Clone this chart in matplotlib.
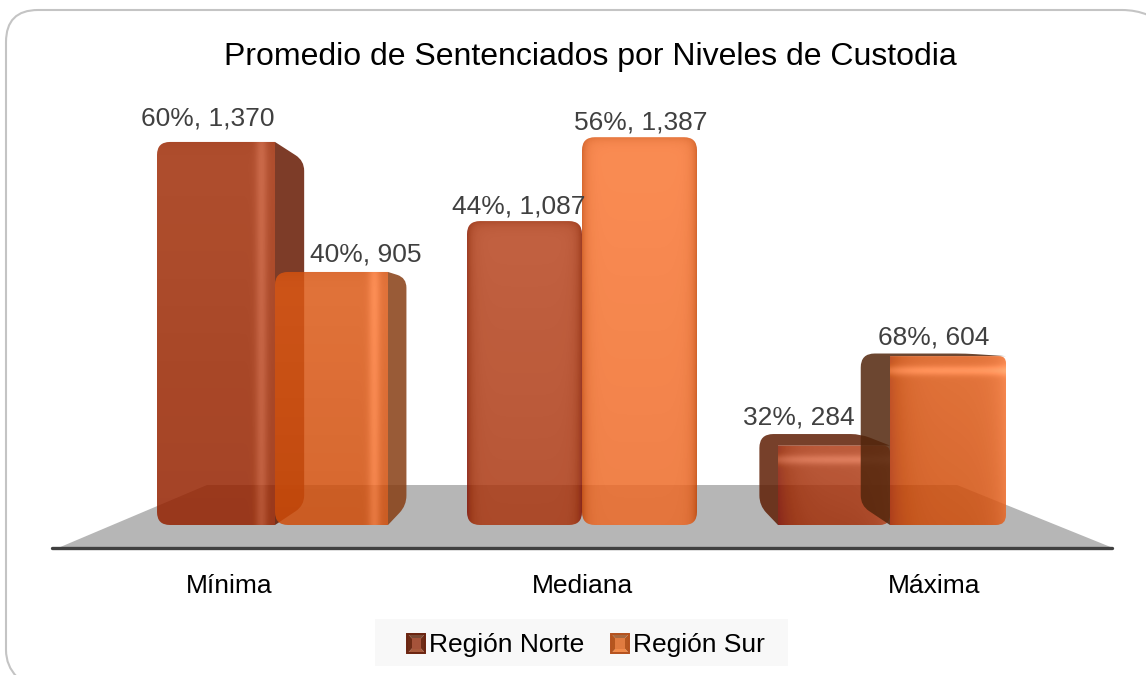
import numpy as np
import matplotlib
matplotlib.use('Agg')
import matplotlib.pyplot as plt
from matplotlib.path import Path
from matplotlib.patches import PathPatch, Polygon, Rectangle
from matplotlib.legend_handler import HandlerBase

plt.rcParams['font.family'] = ['Liberation Sans', 'DejaVu Sans']

title = 'Promedio de Sentenciados por Niveles de Custodia'
categories = ['Mínima', 'Mediana', 'Máxima']
series_names = ['Región Norte', 'Región Sur']
norte_values = [1370, 1087, 284]
sur_values = [905, 1387, 604]
norte_pct = [60, 44, 32]
sur_pct = [40, 56, 68]

# picture geometry, in pixels
base_py = 525
scale = 0.2796
vanish_x, vanish_y = 582, 330
depth_x, depth_y = 0.095, 0.1
left_edge = [157, 467, 778]
mid_edge = [275, 582, 890]
right_edge = [388, 697, 1006]
tick_x = [229.5, 582, 934]
label_x = [[208, 519, 799], [366, 641, 934]]
label_gap = [[26, 18, 31], [20, 18, 22]]
base_rgb = [np.array([162., 47., 9.]), np.array([221., 90., 23.])]
side_rgb = [(102, 26, 2), (135, 62, 20)]
side_rgb_right = [(95, 30, 5), (82, 38, 12)]
alpha = 0.85


def yv(py):
    return (base_py - py) / scale


def yp(v):
    return base_py - v * scale


def round_path(pts, radii):
    # closed path through pts (pixels) with rounded corners, in data coords
    pts = [np.array(p, float) for p in pts]
    if np.isscalar(radii):
        radii = [radii] * len(pts)
    verts, codes = [], []
    n = len(pts)
    for i in range(n):
        p, a, b = pts[i], pts[i - 1], pts[(i + 1) % n]
        ra = min(radii[i], np.linalg.norm(a - p) / 2)
        rb = min(radii[i], np.linalg.norm(b - p) / 2)
        p0 = p + (a - p) / max(np.linalg.norm(a - p), 1e-6) * ra
        p1 = p + (b - p) / max(np.linalg.norm(b - p), 1e-6) * rb
        verts += [p0, p, p1]
        codes += [Path.MOVETO if i == 0 else Path.LINETO, Path.CURVE3, Path.CURVE3]
    verts.append(verts[0])
    codes.append(Path.CLOSEPOLY)
    return Path([(v[0], yv(v[1])) for v in verts], codes)


def front_image(rgb, group, s, w, h):
    xs = np.arange(w)[None, :].repeat(h, 0).astype(float)
    ys = np.arange(h)[:, None].repeat(w, 1).astype(float)
    light = -14 * ys / h
    if group == 0:
        light += 32 * np.exp(-((xs - (w - 14)) / 6) ** 2)
        light += -8 * np.exp(-(ys / 8))
    elif group == 1:
        light += 30 if s == 1 else 22
        light += -40 * np.exp(-xs / 5) - 40 * np.exp(-(w - 1 - xs) / 5)
        light += -25 * np.exp(-ys / 5)
    else:
        light += 40 * np.exp(-((ys - 14) / 5) ** 2)
        light += -35 * np.exp(-xs / 14)
        light += 25 * np.exp(-(w - 1 - xs) / 12)
        if s == 0:
            light += 15
    img = np.zeros((h, w, 4))
    for c in range(3):
        img[:, :, c] = np.clip(rgb[c] + light, 0, 255) / 255
    img[:, :, 3] = alpha
    return img


def draw_bar(ax, x0, x1, value, s, group):
    top = yp(value)

    def back(x, y):
        return x + depth_x * (vanish_x - x), y + depth_y * (vanish_y - y)

    if group == 0:
        pts = [(x1, top), back(x1, top), back(x1, base_py), (x1, base_py)]
        radii = [0, 10, 10, 0]
        col = side_rgb[s]
        corners = [13, 0, 0, 13]
    elif group == 2:
        pts = [(x0, base_py), back(x0, base_py), back(x0, top), back(x1, top), (x1, top), (x0, top)]
        radii = [0, 10, 14, 10, 0, 0]
        col = side_rgb_right[s]
        corners = [0, 7, 10, 0]
    else:
        pts = None
        corners = [13, 13, 13, 13]
    if pts is not None:
        ax.add_patch(PathPatch(round_path(pts, radii), fc=np.array(col) / 255, ec='none', alpha=alpha))
    front = PathPatch(round_path([(x0, top), (x1, top), (x1, base_py), (x0, base_py)], corners),
                      fc='none', ec='none', transform=ax.transData)
    ax.add_patch(front)
    im = ax.imshow(front_image(base_rgb[s], group, s, int(x1 - x0), int(base_py - top)),
                   extent=(x0, x1, 0, value), aspect='auto', origin='upper',
                   interpolation='bilinear', zorder=front.get_zorder())
    im.set_clip_path(front)


class BevelHandler(HandlerBase):
    def __init__(self, light, dark, top, edge, centre):
        super().__init__()
        self.cols = (light, dark, top, edge, centre)

    def create_artists(self, legend, orig_handle, xdescent, ydescent, width, height, fontsize, trans):
        light, dark, top, edge, centre = self.cols
        x0, y0 = -xdescent, -ydescent - 1
        h = height + 1
        x1, y1 = x0 + width, y0 + h
        cx, cy = (x0 + x1) / 2, (y0 + y1) / 2
        arts = [
            Polygon([(x0, y0), (x1, y0), (cx, cy)], fc=top, ec='none'),
            Polygon([(x0, y1), (x1, y1), (cx, cy)], fc=light, ec='none'),
            Polygon([(x0, y0), (x0, y1), (cx, cy)], fc=dark, ec='none'),
            Polygon([(x1, y0), (x1, y1), (cx, cy)], fc=dark, ec='none'),
            Rectangle((x0 + 3, y0 + 3), width - 6, h - 6, fc=centre, ec='none'),
            Rectangle((x0, y0), width, h, fc='none', ec=edge, lw=1.4),
        ]
        for a in arts:
            a.set_transform(trans)
        return arts


fig = plt.figure(figsize=(11.46, 6.75), dpi=100)
ax = fig.add_axes([0, 0, 1, 1])
ax.axis('off')

# outer chart frame, only top and left show inside the picture
frame = Path([(1148, yv(15)), (1136, yv(10)), (1122, yv(10)),
              (38, yv(10)), (6, yv(10)), (6, yv(42)),
              (6, yv(650)), (6, yv(666)), (17, yv(677))],
             [Path.MOVETO, Path.CURVE3, Path.CURVE3,
              Path.LINETO, Path.CURVE3, Path.CURVE3,
              Path.LINETO, Path.CURVE3, Path.CURVE3])
ax.add_patch(PathPatch(frame, fc='none', ec='#C4C4C4', lw=1.5))

# floor and axis line
ax.add_patch(Polygon([(58, yv(548)), (207, yv(485)), (957, yv(485)), (1113, yv(548))],
                     fc='#B6B6B6', ec='none'))
ax.plot([52, 1112], [yv(548), yv(548)], color='#404040', lw=2.4, solid_capstyle='round', zorder=3)

for i in range(len(categories)):
    draw_bar(ax, left_edge[i], mid_edge[i], norte_values[i], 0, i)
for i in range(len(categories)):
    draw_bar(ax, mid_edge[i], right_edge[i], sur_values[i], 1, i)

for s, (vals, pcts) in enumerate([(norte_values, norte_pct), (sur_values, sur_pct)]):
    for i, v in enumerate(vals):
        ax.text(label_x[s][i], yv(yp(v) - label_gap[s][i] + 3), f'{pcts[i]}%, {v:,}',
                fontsize=19, color='#404040', ha='center', va='center', zorder=10)

for i, cat in enumerate(categories):
    ax.text(tick_x[i], yv(586), cat, fontsize=19, color='black', ha='center', va='center')

ax.text(590, yv(57), title, fontsize=23, color='black', ha='center', va='center')

ax.add_patch(Rectangle((375, yv(666)), 413, yv(619) - yv(666), fc='#F8F8F8', ec='none'))
h1 = Rectangle((0, 0), 1, 1)
h2 = Rectangle((0, 0), 1, 1)
ax.legend([h1, h2], series_names, loc='center', bbox_to_anchor=(586, yv(645)),
          bbox_transform=ax.transData, ncol=2, frameon=False, fontsize=19,
          handlelength=0.68, handletextpad=0.13, columnspacing=1.03, borderpad=0,
          handler_map={h1: BevelHandler('#7A4A35', '#6E2C16', '#A85A3C', '#6B2410', '#A5533A'),
                       h2: BevelHandler('#A8683F', '#B5561F', '#F08A4A', '#B5521E', '#E07B40')})

ax.set_xlim(0, 1146)
ax.set_ylim(yv(675), yv(0))
fig.savefig('out.png', dpi=100)
